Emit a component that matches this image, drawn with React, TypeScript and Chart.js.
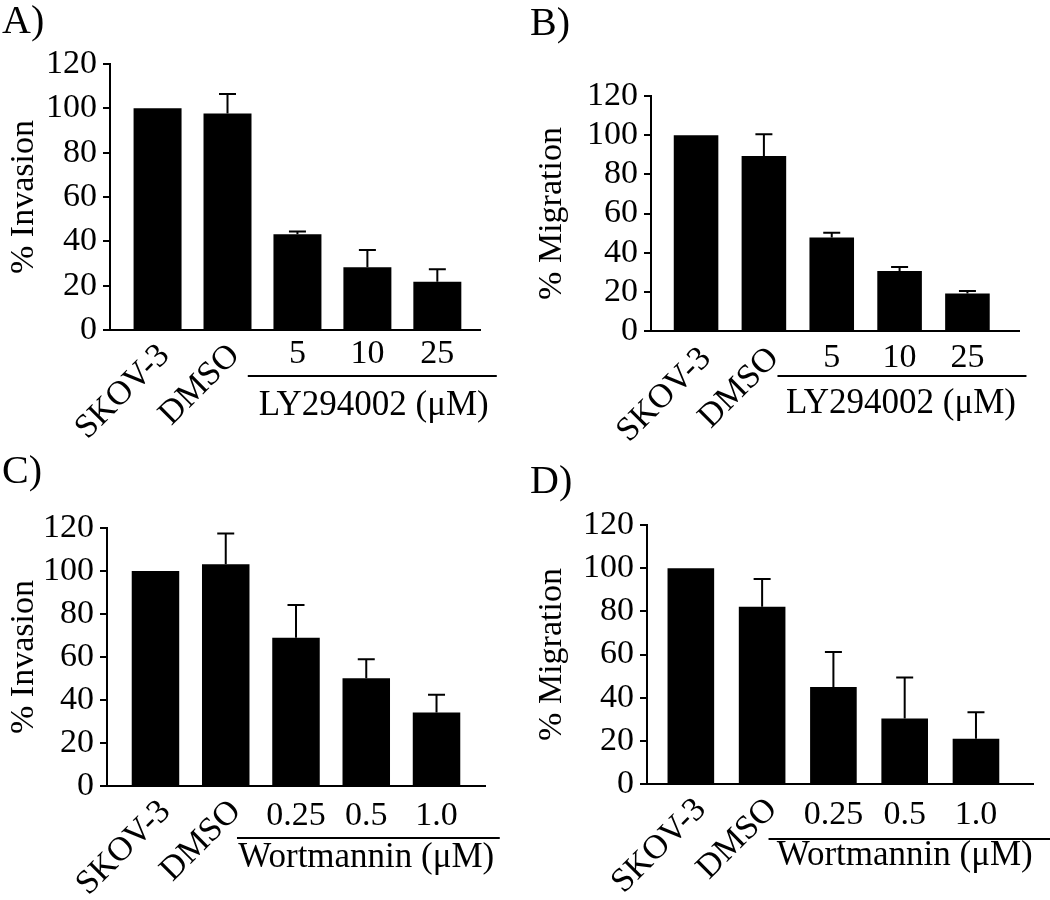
import React, { useEffect, useRef } from 'react';
import { Chart, registerables } from 'chart.js';

Chart.register(...registerables);

const SERIF = '"Liberation Serif", "Times New Roman", Times, serif';

// ---- data ----
const lyCategories = ['SKOV-3', 'DMSO', '5', '10', '25'];
const wortCategories = ['SKOV-3', 'DMSO', '0.25', '0.5', '1.0'];
const yTickValues = [0, 20, 40, 60, 80, 100, 120];

const lyInvasion = [100, 97.7, 43.2, 28.3, 21.8];
const lyInvasionErr = [0, 8.8, 1.2, 7.8, 5.6];

const lyMigration = [100, 89.4, 47.8, 30.6, 19.2];
const lyMigrationErr = [0, 11.1, 2.4, 2.1, 1.2];

const wortInvasion = [100, 103.1, 68.9, 50.1, 34.2];
const wortInvasionErr = [0, 14.4, 15.3, 8.8, 8.2];

const wortMigration = [100, 82.1, 45.0, 30.3, 21.0];
const wortMigrationErr = [0, 12.9, 16.2, 19.0, 12.2];

const lyGroup = 'LY294002 (\u03bcM)';
const wortGroup = 'Wortmannin (\u03bcM)';

// ---- layout ----
const W = 525;
const H = 450;
const TICK_SIZE = 34;
const ROT_SIZE = 34;
const GROUP_SIZE = 35;
const CAP = 17;

type PanelDef = {
  letter: string;
  letterX: number;
  letterY: number;
  yTitle: string;
  titlePad: number;
  categories: string[];
  values: number[];
  errors: number[];
  group: string;
  left: number;
  top: number;
  area: { left: number; right: number; top: number; bottom: number };
  xMin: number;
  xMax: number;
  barPct: number;
  hPad: number;
  rotPad: number;
  rotOffset: number;
  lineFrom: number;
  lineTo: number;
  lineDy: number;
  groupX: number;
  groupDy: number;
};

const panels: PanelDef[] = [
  {
    letter: 'A)', letterX: 2, letterY: 22, yTitle: '% Invasion', titlePad: 4,
    categories: lyCategories, values: lyInvasion, errors: lyInvasionErr, group: lyGroup,
    left: 0, top: 0, area: { left: 110, right: 480, top: 64, bottom: 330 },
    xMin: -0.68, xMax: 4.61, barPct: 0.686, hPad: -4, rotPad: -2, rotOffset: 7,
    lineFrom: 1.29, lineTo: 4.85, lineDy: 46, groupX: 3.09, groupDy: 85,
  },
  {
    letter: 'B)', letterX: 5, letterY: 24, yTitle: '% Migration', titlePad: 7,
    categories: lyCategories, values: lyMigration, errors: lyMigrationErr, group: lyGroup,
    left: 525, top: 0, area: { left: 126, right: 494, top: 96, bottom: 331 },
    xMin: -0.664, xMax: 4.76, barPct: 0.657, hPad: -1.5, rotPad: 0, rotOffset: 10,
    lineFrom: 1.2, lineTo: 4.87, lineDy: 45, groupX: 3.02, groupDy: 82,
  },
  {
    letter: 'C)', letterX: 2, letterY: 22, yTitle: '% Invasion', titlePad: 4,
    categories: wortCategories, values: wortInvasion, errors: wortInvasionErr, group: wortGroup,
    left: 0, top: 450, area: { left: 107, right: 485, top: 78, bottom: 336 },
    xMin: -0.69, xMax: 4.69, barPct: 0.676, hPad: 1.5, rotPad: -2, rotOffset: 10,
    lineFrom: 1.16, lineTo: 4.9, lineDy: 52, groupX: 3.0, groupDy: 81,
  },
  {
    letter: 'D)', letterX: 5, letterY: 32, yTitle: '% Migration', titlePad: 7,
    categories: wortCategories, values: wortMigration, errors: wortMigrationErr, group: wortGroup,
    left: 525, top: 450, area: { left: 122, right: 508, top: 75, bottom: 334 },
    xMin: -0.615, xMax: 4.8, barPct: 0.654, hPad: 2.5, rotPad: -2, rotOffset: 10,
    lineFrom: 1.09, lineTo: 5.04, lineDy: 55, groupX: 3.0, groupDy: 81,
  },
];

function decorPlugin(p: PanelDef) {
  return {
    id: 'panelDecor',
    afterDatasetsDraw(chart: any) {
      const ctx = chart.ctx;
      const meta = chart.getDatasetMeta(0);
      const ys = chart.scales.y;
      ctx.save();
      ctx.strokeStyle = '#000';
      ctx.lineWidth = 2;
      meta.data.forEach((bar: any, i: number) => {
        const e = p.errors[i];
        if (!e) return;
        const yTop = ys.getPixelForValue(p.values[i] + e);
        ctx.beginPath();
        ctx.moveTo(bar.x, bar.y);
        ctx.lineTo(bar.x, yTop);
        ctx.moveTo(bar.x - CAP / 2, yTop);
        ctx.lineTo(bar.x + CAP / 2, yTop);
        ctx.stroke();
      });
      ctx.restore();
    },
    afterDraw(chart: any) {
      const ctx = chart.ctx;
      const xs = chart.scales.x;
      const area = chart.chartArea;
      ctx.save();
      ctx.strokeStyle = '#000';
      ctx.lineWidth = 2;
      const ly = area.bottom + p.lineDy;
      ctx.beginPath();
      ctx.moveTo(xs.getPixelForValue(p.lineFrom), ly);
      ctx.lineTo(xs.getPixelForValue(p.lineTo), ly);
      ctx.stroke();
      ctx.fillStyle = '#000';
      ctx.font = `${GROUP_SIZE}px ${SERIF}`;
      ctx.textAlign = 'center';
      ctx.textBaseline = 'alphabetic';
      ctx.fillText(p.group, xs.getPixelForValue(p.groupX), area.bottom + p.groupDy);
      ctx.font = `40px ${SERIF}`;
      ctx.textAlign = 'left';
      ctx.textBaseline = 'middle';
      ctx.fillText(p.letter, p.letterX, p.letterY);
      ctx.restore();
    },
  };
}

function buildConfig(p: PanelDef): any {
  const font = { family: SERIF, size: TICK_SIZE };
  const label = (rotated: boolean) => (v: any) => {
    const i = Math.round(Number(v));
    if (Math.abs(Number(v) - i) > 1e-6 || i < 0 || i >= p.categories.length) return '';
    return (i < 2) === rotated ? p.categories[i] : '';
  };
  return {
    type: 'bar',
    data: {
      datasets: [
        {
          data: p.values.map((v, i) => ({ x: i, y: v })),
          backgroundColor: '#000',
          borderWidth: 0,
          barPercentage: p.barPct,
          categoryPercentage: 1,
        },
      ],
    },
    options: {
      responsive: false,
      animation: false,
      events: [],
      layout: {
        padding: { left: 0, right: W - p.area.right, top: p.area.top, bottom: H - p.area.bottom },
      },
      plugins: { legend: { display: false }, tooltip: { enabled: false } },
      scales: {
        x: {
          type: 'linear',
          position: { y: 0 },
          offset: false,
          min: p.xMin,
          max: p.xMax,
          ticks: {
            stepSize: 1,
            includeBounds: false,
            autoSkip: false,
            minRotation: 0,
            maxRotation: 0,
            padding: p.hPad,
            color: '#000',
            font,
            callback: label(false),
          },
          grid: { display: false, offset: false },
          border: { display: true, color: '#000', width: 2 },
        },
        x2: {
          type: 'linear',
          axis: 'x',
          position: { y: 0 },
          offset: false,
          min: p.xMin,
          max: p.xMax,
          ticks: {
            stepSize: 1,
            includeBounds: false,
            autoSkip: false,
            minRotation: 45,
            maxRotation: 45,
            padding: p.rotPad,
            labelOffset: p.rotOffset,
            color: '#000',
            font: { family: SERIF, size: ROT_SIZE },
            callback: label(true),
          },
          grid: { display: false, offset: false },
          border: { display: false },
        },
        y: {
          type: 'linear',
          position: 'left',
          min: 0,
          max: 120,
          afterBuildTicks: (s: any) => { s.ticks = yTickValues.map((v) => ({ value: v })); },
          ticks: { padding: 6, autoSkip: false, color: '#000', font },
          grid: { display: true, drawOnChartArea: false, drawTicks: true, tickLength: 7, color: '#000', lineWidth: 2 },
          border: { display: true, color: '#000', width: 2 },
          title: { display: true, text: p.yTitle, color: '#000', font, padding: { top: p.titlePad, bottom: 0 } },
          afterFit: (s: any) => { s.width = p.area.left; },
        },
      },
    },
    plugins: [decorPlugin(p)],
  };
}

function PanelChart({ p }: { p: PanelDef }) {
  const ref = useRef<HTMLCanvasElement | null>(null);
  useEffect(() => {
    if (!ref.current) return;
    const chart = new Chart(ref.current, buildConfig(p));
    return () => chart.destroy();
  }, [p]);
  return (
    <canvas
      ref={ref}
      width={W}
      height={H}
      style={{ position: 'absolute', left: p.left, top: p.top, width: W, height: H }}
    />
  );
}

export default function App() {
  return (
    <div style={{ position: 'absolute', left: 0, top: 0, width: 1050, height: 900, background: '#fff' }}>
      {panels.map((p) => (
        <PanelChart key={p.letter} p={p} />
      ))}
    </div>
  );
}
